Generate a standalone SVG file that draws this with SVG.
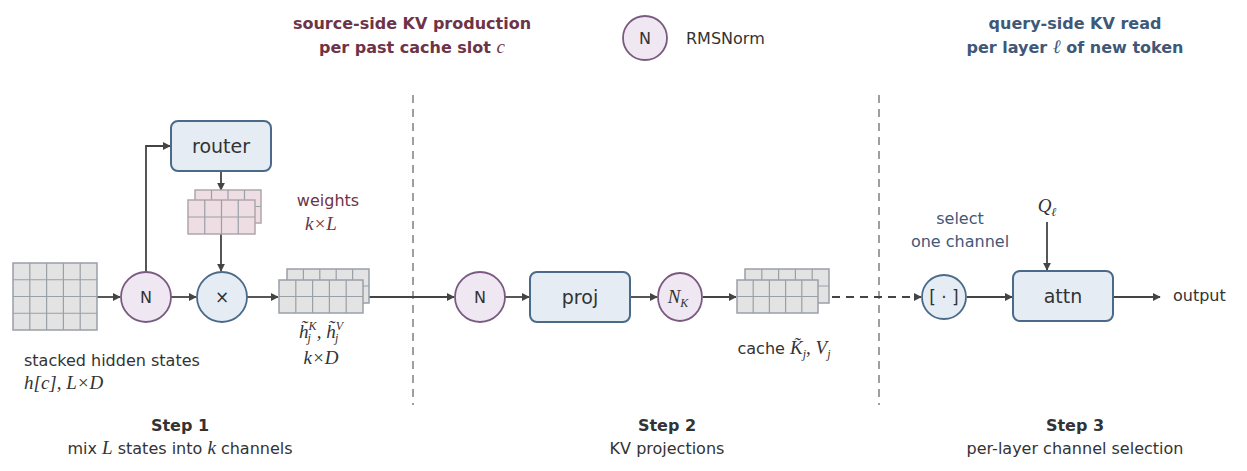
<svg xmlns="http://www.w3.org/2000/svg" width="1247" height="471" viewBox="0 0 1247 471">
<defs>
<marker id="ar" viewBox="0 0 10 10" refX="9" refY="5" markerWidth="8" markerHeight="8" markerUnits="userSpaceOnUse" orient="auto"><path d="M0,0 L10,5 L0,10 z" fill="#444"/></marker>
</defs>
<style>
text{font-family:"DejaVu Sans","Liberation Sans",sans-serif;fill:#333}
.m{font-family:"Liberation Serif","DejaVu Serif",serif;font-style:italic}
.g{fill:#e3e3e3;stroke:#9aa0a8;stroke-width:1.5}
.gl{stroke:#9aa0a8;stroke-width:1.2}
.p{fill:#eedde2;stroke:#b0a6aa;stroke-width:1.5}
.box{fill:#e5ecf4;stroke:#4a6a8a;stroke-width:2}
.cn{fill:#efe8f3;stroke:#7a5a80;stroke-width:1.8}
.cb{fill:#e5ecf4;stroke:#4a6a8a;stroke-width:1.8}
.ln{stroke:#444;stroke-width:1.8;fill:none}
.sep{stroke:#888;stroke-width:1.6;stroke-dasharray:8 6}
.red{fill:#6e3346}
.blu{fill:#3f5878}
.b{font-weight:bold}
</style>
<g id="headers" font-size="16">
<text class="b red" x="412" y="29" text-anchor="middle">source-side KV production</text>
<text class="b red" x="412" y="53" text-anchor="middle">per past cache slot <tspan class="m" font-weight="normal" font-size="19">c</tspan></text>
<text class="b blu" x="1075" y="29" text-anchor="middle">query-side KV read</text>
<text class="b blu" x="1075" y="53" text-anchor="middle">per layer <tspan class="m" font-weight="normal" font-size="19">ℓ</tspan> of new token</text>
</g>
<g id="legend"><circle class="cn" cx="645" cy="38" r="22"/><text x="645" y="44" text-anchor="middle" font-size="16">N</text><text x="686" y="44" font-size="16">RMSNorm</text></g>
<g id="separators"><line class="sep" x1="413" y1="95" x2="413" y2="405"/><line class="sep" x1="879" y1="95" x2="879" y2="405"/></g>
<g id="connectors">
<line class="ln" x1="97" y1="297" x2="120" y2="297" marker-end="url(#ar)"/>
<polyline class="ln" points="146,272 146,146 170,146" marker-end="url(#ar)" stroke-width="1.3"/>
<line class="ln" x1="171" y1="297" x2="196" y2="297" marker-end="url(#ar)"/>
<line class="ln" x1="221" y1="171" x2="221" y2="190" marker-end="url(#ar)" stroke-width="1.3"/>
<line class="ln" x1="221" y1="234" x2="221" y2="271" marker-end="url(#ar)" stroke-width="1.3"/>
<line class="ln" x1="247" y1="297" x2="278" y2="297" marker-end="url(#ar)"/>
<line class="ln" x1="369" y1="297" x2="454" y2="297" marker-end="url(#ar)"/>
<line class="ln" x1="505" y1="297" x2="529" y2="297" marker-end="url(#ar)"/>
<line class="ln" x1="630" y1="297" x2="657" y2="297" marker-end="url(#ar)"/>
<line class="ln" x1="703" y1="297" x2="736" y2="297" marker-end="url(#ar)"/>
<line class="ln" x1="818" y1="297" x2="921" y2="297" stroke-dasharray="8 6" marker-end="url(#ar)"/>
<line class="ln" x1="967" y1="297" x2="1012" y2="297" marker-end="url(#ar)"/>
<line class="ln" x1="1047" y1="222" x2="1047" y2="270" marker-end="url(#ar)" stroke-width="1.3"/>
<line class="ln" x1="1113" y1="297" x2="1160" y2="297" marker-end="url(#ar)"/>
</g>
<g id="stacked">
<rect class="g" x="13" y="263" width="84" height="67"/>
<path class="gl" d="M29.8,263V330M46.6,263V330M63.4,263V330M80.2,263V330M13,279.75H97M13,296.5H97M13,313.25H97"/>
<text x="24" y="366" font-size="16">stacked hidden states</text>
<text class="m" x="24" y="389" font-size="19">h[c],  L×D</text>
</g>
<g id="norm1"><circle class="cn" cx="146" cy="297" r="25"/><text x="146" y="303" text-anchor="middle" font-size="16">N</text></g>
<g id="router"><rect class="box" x="171" y="121" width="100" height="50" rx="7"/><text x="221" y="153" text-anchor="middle" font-size="19">router</text></g>
<g id="weights">
<rect class="p" x="195" y="190" width="66" height="33"/>
<path class="gl" d="M211.5,190V200M228,190V200M244.5,190V200M255,206.5H261"/>
<rect class="p" x="188" y="200" width="67" height="34"/>
<path class="gl" d="M204.75,200V234M221.5,200V234M238.25,200V234M188,217H255"/>
<text class="red" x="328" y="206" text-anchor="middle" font-size="16">weights</text>
<text class="red m" x="321" y="230" text-anchor="middle" font-size="19">k×L</text>
</g>
<g id="mix"><circle class="cb" cx="222" cy="297" r="25"/><text x="222" y="303" text-anchor="middle" font-size="17">×</text></g>
<g id="hkv">
<rect class="g" x="287" y="269" width="82" height="34"/>
<path class="gl" d="M303.4,269V280M319.8,269V280M336.2,269V280M352.6,269V280M363,286H369"/>
<rect class="g" x="279" y="280" width="84" height="33"/>
<path class="gl" d="M295.8,280V313M312.6,280V313M329.4,280V313M346.2,280V313M279,296.5H363"/>
<text class="m" x="321" y="338" text-anchor="middle" font-size="19">h̃<tspan dy="-8" font-size="12">K</tspan><tspan dy="12" font-size="12" dx="-9">j</tspan><tspan dy="-4" dx="6">, h̃</tspan><tspan dy="-8" font-size="12">V</tspan><tspan dy="12" font-size="12" dx="-8">j</tspan></text>
<text class="m" x="321" y="364" text-anchor="middle" font-size="19">k×D</text>
</g>
<g id="norm2"><circle class="cn" cx="480" cy="297" r="25"/><text x="480" y="303" text-anchor="middle" font-size="16">N</text></g>
<g id="proj"><rect class="box" x="530" y="272" width="100" height="50" rx="7"/><text x="580" y="304" text-anchor="middle" font-size="19">proj</text></g>
<g id="normk"><ellipse class="cn" cx="680" cy="297" rx="22" ry="24"/><text class="m" x="678" y="303" text-anchor="middle" font-size="19">N<tspan font-size="12" dy="4">K</tspan></text></g>
<g id="cache">
<rect class="g" x="745" y="269" width="84" height="34"/>
<path class="gl" d="M761.8,269V280M778.6,269V280M795.4,269V280M812.2,269V280M818,286H829"/>
<rect class="g" x="737" y="280" width="81" height="33"/>
<path class="gl" d="M753.2,280V313M769.4,280V313M785.6,280V313M801.8,280V313M737,296.5H818"/>
<text x="784" y="354" text-anchor="middle" font-size="16">cache <tspan class="m" font-size="19">K̃<tspan font-size="12" dy="4">j</tspan><tspan dy="-4">, V</tspan><tspan font-size="12" dy="4">j</tspan></tspan></text>
</g>
<g id="select">
<text class="blu" x="960" y="224" text-anchor="middle" font-size="16">select</text>
<text class="blu" x="960" y="247" text-anchor="middle" font-size="16">one channel</text>
<circle class="cb" cx="944" cy="297" r="22"/><text x="944" y="303" text-anchor="middle" font-size="17" font-family="Liberation Serif,serif">[ · ]</text>
</g>
<g id="q"><text class="m" x="1047" y="212" text-anchor="middle" font-size="19">Q<tspan font-size="12" dy="4">ℓ</tspan></text></g>
<g id="attn"><rect class="box" x="1013" y="271" width="100" height="50" rx="7"/><text x="1063" y="303" text-anchor="middle" font-size="19">attn</text></g>
<g id="output"><text x="1173" y="301" font-size="16">output</text></g>
<g id="steps" font-size="16">
<text class="b" x="180" y="431" text-anchor="middle">Step 1</text>
<text x="180" y="454" text-anchor="middle">mix <tspan class="m" font-size="19">L</tspan> states into <tspan class="m" font-size="19">k</tspan> channels</text>
<text class="b" x="667" y="431" text-anchor="middle">Step 2</text>
<text x="667" y="454" text-anchor="middle">KV projections</text>
<text class="b" x="1075" y="431" text-anchor="middle">Step 3</text>
<text x="1075" y="454" text-anchor="middle">per-layer channel selection</text>
</g>
</svg>
